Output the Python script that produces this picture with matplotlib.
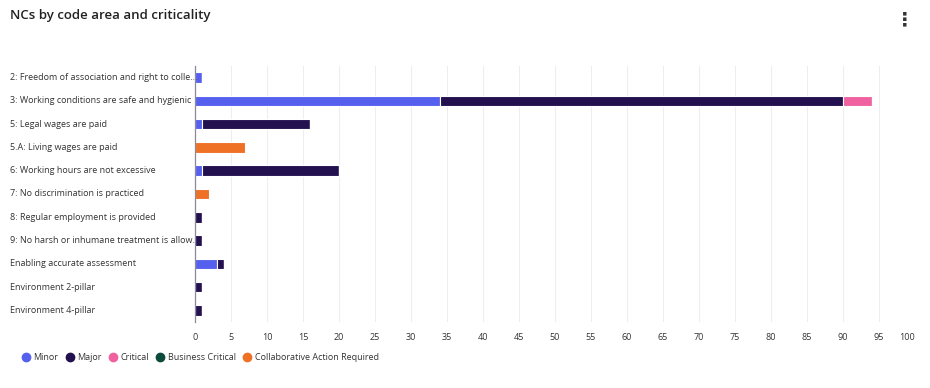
import numpy as np
import matplotlib.pyplot as plt
from matplotlib.lines import Line2D
from matplotlib.transforms import blended_transform_factory

plt.rcParams['font.family'] = ['Open Sans', 'DejaVu Sans']

# データ
categories = ["2: Freedom of association and right to colle...",
              "3: Working conditions are safe and hygienic",
              "5: Legal wages are paid",
              "5.A: Living wages are paid",
              "6: Working hours are not excessive",
              "7: No discrimination is practiced",
              "8: Regular employment is provided",
              "9: No harsh or inhumane treatment is allow...",
              "Enabling accurate assessment",
              "Environment 2-pillar",
              "Environment 4-pillar"]
minor = [1, 34, 1, 0, 1, 0, 0, 0, 3, 0, 0]
major = [0, 56, 15, 0, 19, 0, 1, 1, 1, 1, 1]
critical = [0, 4, 0, 0, 0, 0, 0, 0, 0, 0, 0]
business_critical = [0, 0, 0, 0, 0, 0, 0, 0, 0, 0, 0]
collab = [0, 0, 0, 7, 0, 2, 0, 0, 0, 0, 0]

series = [("Minor", minor, '#5561EE'),
          ("Major", major, '#22104F'),
          ("Critical", critical, '#F0629F'),
          ("Business Critical", business_critical, '#0C4A3B'),
          ("Collaborative Action Required", collab, '#EE7125')]

fig = plt.figure(figsize=(9.3, 3.88), dpi=100)
ax = fig.add_axes([195/930, 1-322/388, (915-195)/930, (322-66)/388])

y = np.arange(len(categories))
left = np.zeros(len(categories))
for name, vals, col in series:
    vals = np.array(vals, dtype=float)
    ax.barh(y, vals, left=left, height=0.45, color=col, edgecolor='white', linewidth=0.8, zorder=3)
    left += vals

ax.set_ylim(len(categories)-0.5, -0.5)
ax.set_xlim(0, 100)
ax.set_xticks(np.arange(0, 101, 5))
ax.tick_params(axis='x', length=0, labelsize=6.5, colors='#333333', pad=8)
ax.get_xticklabels()[-1].set_horizontalalignment('right')
ax.set_yticks([])
ax.grid(axis='x', color='#eeeeee', lw=0.8, zorder=0)
for s in ['top', 'right', 'bottom']:
    ax.spines[s].set_visible(False)
ax.spines['left'].set_color('#8a8a9a')
ax.spines['left'].set_linewidth(0.9)
ax.spines['left'].set_zorder(5)

# 左寄せのカテゴリラベル
tr = blended_transform_factory(fig.transFigure, ax.transData)
for yi, c in zip(y, categories):
    ax.text(10/930, yi, c, transform=tr, ha='left', va='center', fontsize=6.5, color='#333333')

fig.text(10/930, 1-15/388, "NCs by code area and criticality", fontsize=9.5, fontweight='semibold',
         color='#222222', va='center', ha='left')
fig.text(905/930, 1-20/388, "\u22ee", fontsize=14, fontweight='bold', color='#333333',
         va='center', ha='center', family='DejaVu Sans')

handles = [Line2D([], [], marker='o', ls='', color=col, markersize=6) for _, _, col in series]
fig.legend(handles, [s[0] for s in series], loc='center left', bbox_to_anchor=(14/930, 1-358/388),
           ncol=5, frameon=False, fontsize=6.5, handlelength=0.8, handletextpad=0.4,
           columnspacing=0.9, labelcolor='#333333')

plt.savefig("out.png", dpi=100)
